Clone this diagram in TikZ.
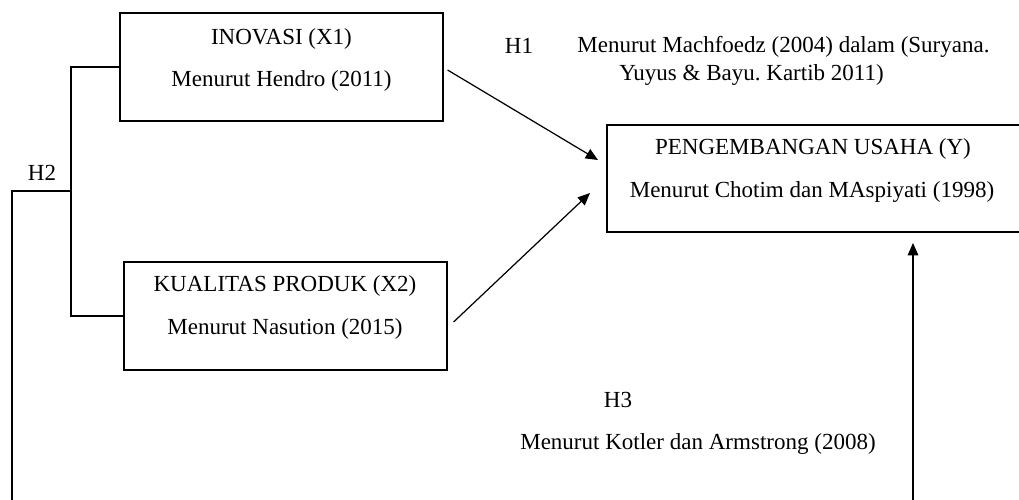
\documentclass[tikz,border=0pt]{standalone}
\usepackage{fontspec}
\setmainfont{Liberation Serif}
\usetikzlibrary{arrows.meta,positioning}
\frenchspacing

\begin{document}
\begin{tikzpicture}[x=0.02cm,y=-0.02cm,
  box/.style={draw,line width=0.7pt,minimum width=6.46cm,minimum height=2.16cm,inner sep=0pt},
  lbl/.style={font=\fontsize{13.1}{16}\selectfont,inner sep=0pt},
  arr/.style={line width=0.7pt,-{Triangle[length=7pt,width=6pt]}},
  ln/.style={line width=0.7pt}]
\useasboundingbox (0,0) rectangle (1019,500);

% kotak variabel
\node[box] (x1) at (281.5,67) {};
\node[lbl] (x1t) at (281.5,39) {INOVASI (X1)};
\node[lbl] (x1s) at (281.5,81) {Menurut Hendro (2011)};

\node[box] (x2) at (285.5,316) {};
\node[lbl] (x2t) at (285,286) {KUALITAS PRODUK (X2)};
\node[lbl] (x2s) at (285,329) {Menurut Nasution (2015)};

\node[box,minimum width=8.32cm,minimum height=2.14cm] (y) at (815,178.5) {};
\node[lbl] (yt) at (813,149) {PENGEMBANGAN USAHA (Y)};
\node[lbl] (ys) at (812,192) {Menurut Chotim dan MAspiyati (1998)};

% hipotesis
\node[lbl] (h1) at (519,46) {H1};
\node[lbl,anchor=west] (h1a) at (577,47) {Menurut Machfoedz (2004) dalam (Suryana.};
\node[lbl,anchor=west] (h1b) at (619,75) {Yuyus \& Bayu. Kartib 2011)};
\node[lbl] (h2) at (42,173) {H2};
\node[lbl] (h3) at (618,400) {H3};
\node[lbl] (h3s) at (698,444) {Menurut Kotler dan Armstrong (2008)};

% panah
\coordinate (t1) at (598,160);
\coordinate (t2) at (590,193);
\coordinate (t3) at (913,243);
\coordinate (h2a) at (71,191);

\draw[arr] ([xshift=0.08cm,yshift=-0.06cm]x1.east) -- (t1);
\draw[arr] ([xshift=0.12cm,yshift=-0.12cm]x2.east) -- (t2);
\draw[ln] (x1.west) -| (h2a) |- (x2.west);
\draw[arr] (h2a) -- (12,191) -- (12,520) -- (913,520) -- (t3);
\end{tikzpicture}
\end{document}
